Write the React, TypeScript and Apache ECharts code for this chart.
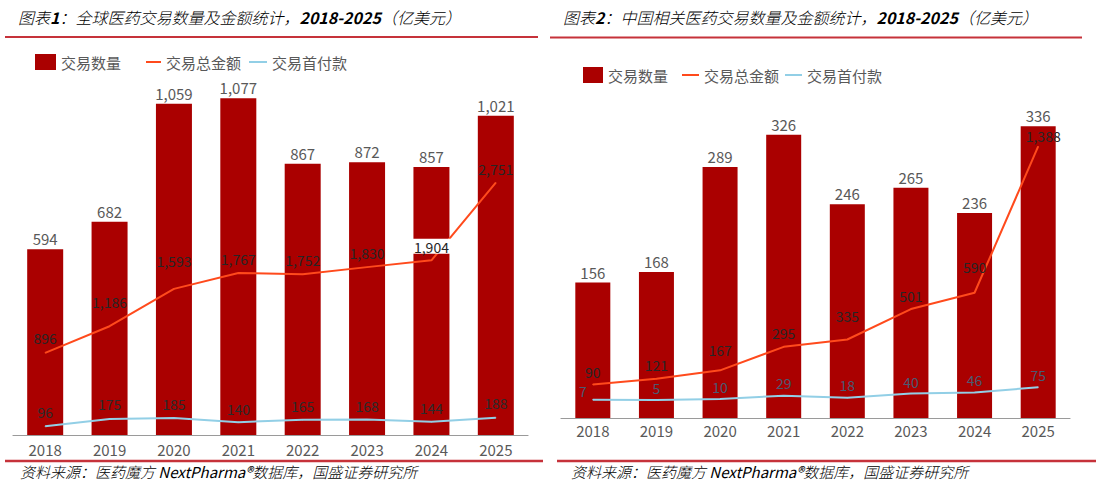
import React, { useEffect, useRef } from "react";
import * as echarts from "echarts";

const YEARS = ["2018", "2019", "2020", "2021", "2022", "2023", "2024", "2025"];
const GLOBAL_COUNT = [594, 682, 1059, 1077, 867, 872, 857, 1021];
const GLOBAL_TOTAL = [896, 1186, 1593, 1767, 1752, 1830, 1904, 2751];
const GLOBAL_UPFRONT = [96, 175, 185, 140, 165, 168, 144, 188];
const CHINA_COUNT = [156, 168, 289, 326, 246, 265, 236, 336];
const CHINA_TOTAL = [90, 121, 167, 295, 335, 501, 590, 1388];
const CHINA_UPFRONT = [7, 5, 10, 29, 18, 40, 46, 75];

const NAME_COUNT = "交易数量";
const NAME_TOTAL = "交易总金额";
const NAME_UPFRONT = "交易首付款";

// label placement tweaks (px above point, px sideways)
const G_TOTAL_RISE = [14, 24, 27, 13, 14, 14, 13, 13];
const G_UP_RISE = [14, 14, 14, 13, 13, 13, 13, 14];
const C_TOTAL_RISE = [12, 13, 20, 13, 23, 13, 25, 10];
const C_UP_RISE = [8, 12, 12, 12, 12, 11, 12, 12];
const C_UP_SHIFT = [-10, 0, 0, 0, 0, 0, 0, 0];
const C_TOTAL_SHIFT = [0, 0, 0, 0, 0, 0, 0, 5];

const FONT = "'Noto Sans CJK SC', 'Noto Sans', sans-serif";
const BAR_COLOR = "#AA0000";
const TOTAL_COLOR = "#FF4A1C";
const UP_COLOR = "#92CFE6";
const RED_LINE = "#C6323A";

const fmt = (v: number) => v.toLocaleString("en-US");

function lineData(values: number[], rise: number[], shift?: number[], special?: number) {
  return values.map((v, i) => {
    const label: any = { offset: [shift ? shift[i] : 0, -(rise[i] - 7)] };
    if (special === i) {
      label.backgroundColor = "#ffffff";
      label.padding = [1, 2, 0, 2];
    }
    return { value: v, label };
  });
}

export default function App() {
  const ref = useRef<HTMLDivElement>(null);

  useEffect(() => {
    if (!ref.current) return;
    const chart = echarts.init(ref.current, undefined, { renderer: "svg" });

    const xAxisCommon = (gridIndex: number, margin: number) => ({
      type: "category",
      gridIndex,
      data: YEARS,
      axisLine: { lineStyle: { color: "#9A9A9A", width: 1.2 } },
      axisTick: { show: false },
      axisLabel: { color: "#595959", fontSize: 15, fontFamily: FONT, margin },
    });

    const barLabel = {
      show: true,
      position: "top",
      distance: 3,
      color: "#595959",
      fontSize: 15,
      fontFamily: FONT,
      formatter: (p: any) => fmt(p.value),
    };

    const lineLabel = (color: string) => ({
      show: true,
      position: "top",
      distance: 0,
      color,
      fontSize: 14,
      fontFamily: FONT,
      formatter: (p: any) => fmt(p.value),
    });

    const legend = (left: number, top: number, name: string, w: number, isLine: boolean) => ({
      left,
      top,
      data: [{ name, icon: "rect" }],
      itemWidth: w,
      itemHeight: isLine ? 2 : 16,
      itemGap: 0,
      selectedMode: false,
      textStyle: { color: "#595959", fontSize: 15, fontFamily: FONT, lineHeight: 16 },
    });

    const titleRich = {
      c: { color: "#D0565C", fontStyle: "italic", fontWeight: 300, fontSize: 16, fontFamily: FONT },
      d: { color: "#BE1E2D", fontStyle: "italic", fontWeight: "bold", fontSize: 16, fontFamily: FONT },
    };
    const footRich = {
      c: { color: "#D0565C", fontStyle: "italic", fontWeight: 300, fontSize: 15, fontFamily: FONT },
      d: { color: "#C00000", fontStyle: "italic", fontSize: 15, fontFamily: FONT },
    };

    const lineCommon = (color: string) => ({
      type: "line",
      symbol: "circle",
      symbolSize: 1,
      showSymbol: true,
      lineStyle: { color, width: 2 },
      itemStyle: { color },
      z: 3,
    });

    const option: any = {
      animation: false,
      backgroundColor: "#ffffff",
      textStyle: { fontFamily: FONT },
      grid: [
        { left: 13, top: 91, width: 515, height: 344 },
        { left: 561, top: 114, width: 509, height: 304 },
      ],
      legend: [
        legend(30, 49, NAME_COUNT, 21, false),
        legend(141, 49, NAME_TOTAL, 15, true),
        legend(244, 49, NAME_UPFRONT, 18, true),
        legend(578, 62, NAME_COUNT, 20, false),
        legend(677, 62, NAME_TOTAL, 17, true),
        legend(780, 62, NAME_UPFRONT, 17, true),
      ],
      xAxis: [xAxisCommon(0, 7), xAxisCommon(1, 5)],
      yAxis: [
        { type: "value", gridIndex: 0, min: 0, max: 1100, show: false, splitLine: { show: false } },
        { type: "value", gridIndex: 0, min: 0, max: 3750, show: false, splitLine: { show: false } },
        { type: "value", gridIndex: 1, min: 0, max: 350, show: false, splitLine: { show: false } },
        { type: "value", gridIndex: 1, min: -93, max: 1565, show: false, splitLine: { show: false } },
      ],
      series: [
        {
          name: NAME_COUNT,
          type: "bar",
          xAxisIndex: 0,
          yAxisIndex: 0,
          data: GLOBAL_COUNT,
          barWidth: 36,
          itemStyle: { color: BAR_COLOR },
          label: barLabel,
        },
        {
          name: NAME_COUNT,
          type: "bar",
          xAxisIndex: 1,
          yAxisIndex: 2,
          data: CHINA_COUNT,
          barWidth: 35,
          itemStyle: { color: BAR_COLOR },
          label: barLabel,
        },
        {
          ...lineCommon(TOTAL_COLOR),
          name: NAME_TOTAL,
          xAxisIndex: 0,
          yAxisIndex: 1,
          data: lineData(GLOBAL_TOTAL, G_TOTAL_RISE, undefined, 6),
          label: lineLabel("#262626"),
        },
        {
          ...lineCommon(UP_COLOR),
          name: NAME_UPFRONT,
          xAxisIndex: 0,
          yAxisIndex: 1,
          data: lineData(GLOBAL_UPFRONT, G_UP_RISE),
          label: lineLabel("#2B2B2B"),
        },
        {
          ...lineCommon(TOTAL_COLOR),
          name: NAME_TOTAL,
          xAxisIndex: 1,
          yAxisIndex: 3,
          data: lineData(CHINA_TOTAL, C_TOTAL_RISE, C_TOTAL_SHIFT),
          label: lineLabel("#262626"),
        },
        {
          ...lineCommon(UP_COLOR),
          name: NAME_UPFRONT,
          xAxisIndex: 1,
          yAxisIndex: 3,
          data: lineData(CHINA_UPFRONT, C_UP_RISE, C_UP_SHIFT),
          label: lineLabel("#4A5A72"),
        },
      ],
      graphic: [
        {
          type: "text",
          left: 18,
          top: 9,
          style: {
            text: "{c|图表}{d|1}{c|：全球医药交易数量及金额统计，}{d|2018-2025}{c|（亿美元）}",
            rich: titleRich,
          },
        },
        {
          type: "text",
          left: 563,
          top: 9,
          style: {
            text: "{c|图表}{d|2}{c|：中国相关医药交易数量及金额统计，}{d|2018-2025}{c|（亿美元）}",
            rich: titleRich,
          },
        },
        { type: "line", shape: { x1: 5, y1: 37, x2: 538, y2: 37 }, style: { stroke: RED_LINE, lineWidth: 2 } },
        { type: "line", shape: { x1: 550, y1: 37.5, x2: 1082, y2: 37.5 }, style: { stroke: RED_LINE, lineWidth: 2 } },
        { type: "line", shape: { x1: 5, y1: 461, x2: 543, y2: 461 }, style: { stroke: RED_LINE, lineWidth: 2.5 } },
        { type: "line", shape: { x1: 557, y1: 461, x2: 1096, y2: 461 }, style: { stroke: RED_LINE, lineWidth: 2.5 } },
        {
          type: "text",
          left: 20,
          top: 464,
          style: {
            text: "{c|资料来源：医药魔方 }{d|NextPharma®}{c|数据库，国盛证券研究所}",
            rich: footRich,
          },
        },
        {
          type: "text",
          left: 571,
          top: 464,
          style: {
            text: "{c|资料来源：医药魔方 }{d|NextPharma®}{c|数据库，国盛证券研究所}",
            rich: footRich,
          },
        },
      ],
    };

    chart.setOption(option);
    return () => chart.dispose();
  }, []);

  return (
    <div
      ref={ref}
      style={{ position: "absolute", left: 0, top: 0, width: 1099, height: 487, background: "#fff" }}
    />
  );
}
